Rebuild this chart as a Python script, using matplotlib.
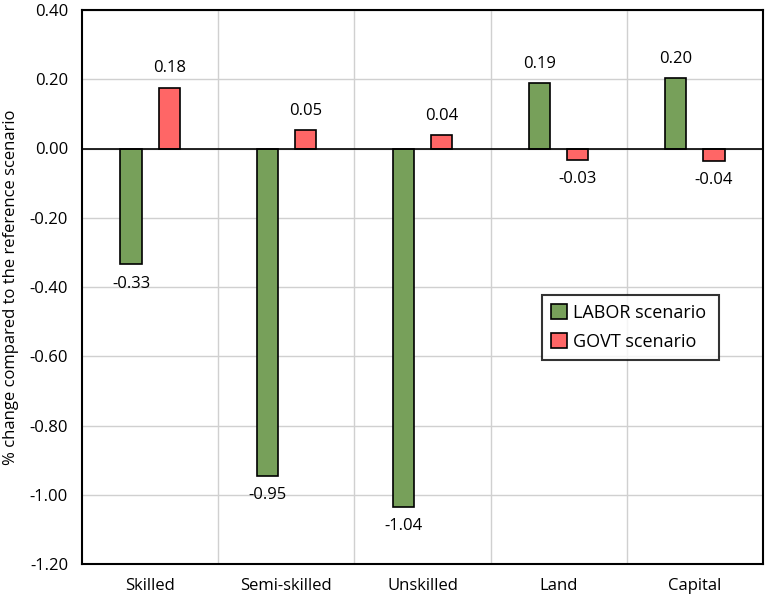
import numpy as np
import matplotlib.pyplot as plt

categories = ["Skilled", "Semi-skilled", "Unskilled", "Land", "Capital"]
labor = [-0.335, -0.945, -1.035, 0.190, 0.203]
govt = [0.176, 0.053, 0.040, -0.033, -0.036]
labor_labels = ["-0.33", "-0.95", "-1.04", "0.19", "0.20"]
govt_labels = ["0.18", "0.05", "0.04", "-0.03", "-0.04"]
yticks = [0.4, 0.2, 0.0, -0.2, -0.4, -0.6, -0.8, -1.0, -1.2]

plt.rcParams["font.family"] = ["Open Sans", "DejaVu Sans"]
FS = 12

fig = plt.figure(figsize=(7.65, 5.99), dpi=100)
ax = fig.add_axes([82 / 765, 35 / 599, 681 / 765, 554 / 599])

x = np.arange(len(categories))
w = 0.155
b1 = ax.bar(x - 0.14, labor, w, color="#77A05A", edgecolor="black",
            linewidth=1.2, label="LABOR scenario", zorder=3)
b2 = ax.bar(x + 0.14, govt, w, color="#FF6666", edgecolor="black",
            linewidth=1.2, label="GOVT scenario", zorder=3)

for bars, labs in [(b1, labor_labels), (b2, govt_labels)]:
    for bar, lab in zip(bars, labs):
        h = bar.get_height()
        if h >= 0:
            ax.annotate(lab, (bar.get_x() + bar.get_width() / 2, h),
                        xytext=(0, 8), textcoords="offset points",
                        ha="center", va="bottom", fontsize=FS)
        else:
            ax.annotate(lab, (bar.get_x() + bar.get_width() / 2, h),
                        xytext=(0, -8), textcoords="offset points",
                        ha="center", va="top", fontsize=FS)

ax.set_xlim(-0.5, len(categories) - 0.5)
ax.set_ylim(-1.2, 0.4)
ax.set_yticks(yticks)
ax.set_yticklabels([f"{v:.2f}" for v in yticks], fontsize=FS)
ax.set_xticks(x)
ax.set_xticklabels(categories, fontsize=FS)
ax.tick_params(length=0, pad=10)

# gridlines
for v in yticks:
    ax.axhline(v, color="#D0D0D0", linewidth=1, zorder=0)
for b in np.arange(0.5, len(categories) - 0.5, 1):
    ax.axvline(b, color="#D0D0D0", linewidth=1, zorder=0)
ax.axhline(0, color="black", linewidth=1.2, zorder=4)

for s in ax.spines.values():
    s.set_linewidth(1.5)
    s.set_color("black")

ax.set_ylabel("% change compared to the reference scenario", fontsize=FS)
ax.yaxis.set_label_coords(-0.093, 0.5)

leg = ax.legend(loc="lower left", bbox_to_anchor=(0.662, 0.352, 0.286, 0.112),
                mode="expand", fontsize=FS + 1, frameon=True, fancybox=False,
                edgecolor="black", handlelength=0.9, handleheight=0.9,
                handletextpad=0.3, labelspacing=0.6, borderpad=0.5)
leg.get_frame().set_linewidth(1.5)

plt.savefig("out.png", dpi=100)
